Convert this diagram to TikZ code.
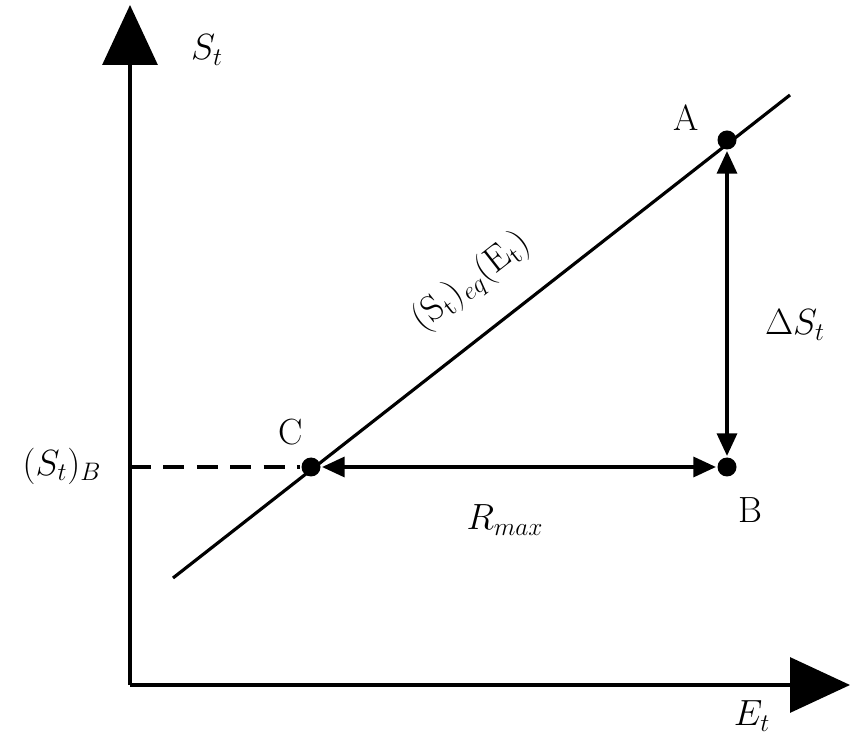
\documentclass[tikz,border=0pt]{standalone}
\usetikzlibrary{arrows.meta}
\begin{document}
\begin{tikzpicture}[x=0.02cm, y=-0.02cm, line width=1.8pt,
    axis/.style ={-{Triangle[length=1.2cm, width=1.1cm]}},
    dbl/.style ={{Triangle[length=0.45cm, width=0.4cm]}-{Triangle[length=0.45cm, width=0.4cm]}},
    dot/.style ={circle, fill, inner sep=0pt, minimum size=0.38cm},
    lbl/.style ={font=\huge}]
    \useasboundingbox (0,0) rectangle (859,749);

    %ejes
    \coordinate (O) at (130, 685);
    \coordinate (Ytop) at (130, 5);
    \coordinate (Xend) at (850, 685);
    \draw[axis] (O) -- (Ytop);
    \draw[axis] (O) -- (Xend);

    %recta de equilibrio
    \coordinate (L0) at (173, 578);
    \coordinate (L1) at (790, 95);
    \draw (L0) -- (L1);

    \node[dot] (A) at (727, 140) {};
    \node[dot] (B) at (727, 467) {};
    \node[dot] (C) at (311, 467) {};
    \coordinate (SB) at (130, 467);

    \draw[dashed, dash pattern=on 12pt off 7pt] (SB) -- (C);
    \draw[dbl] (C) -- (B);
    \draw[dbl] (A) -- (B);

    \node[lbl] (St) at (207, 50) {$S_t$};
    \node[lbl] (Et) at (752, 716) {$E_t$};
    \node[lbl] (la) at (686, 118) {A};
    \node[lbl] (lb) at (750, 510) {B};
    \node[lbl] (lc) at (291, 432) {C};
    \node[lbl] (ds) at (795, 325) {$\Delta S_t$};
    \node[lbl] (rm) at (505, 520) {$R_{max}$};
    \node[lbl] (stb) at (62, 466) {$(S_t)_B$};
    \node[lbl, rotate=38] (eq) at (472, 282) {$(\mathrm{S_t})_{eq}(\mathrm{E_t})$};
\end{tikzpicture}
\end{document}
